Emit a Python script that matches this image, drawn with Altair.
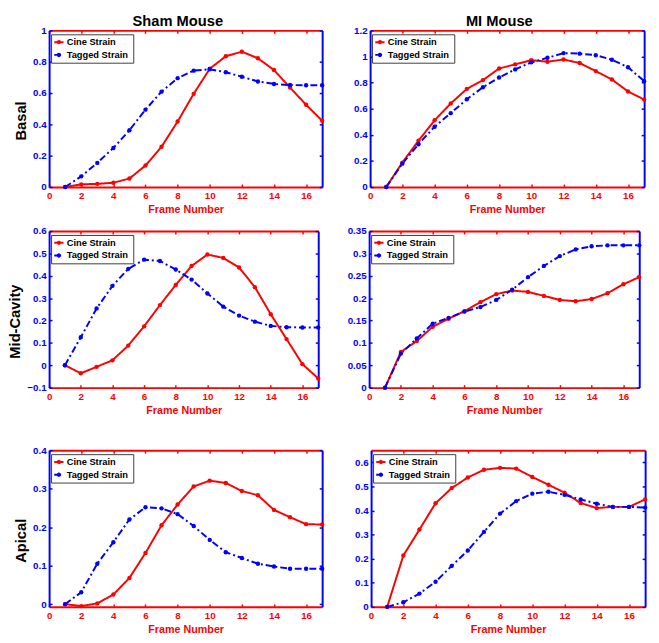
import altair as alt
import pandas as pd

FRAMES = list(range(1, 18))
SERIES = ["Cine Strain", "Tagged  Strain"]
X_TICKS = [0, 2, 4, 6, 8, 10, 12, 14, 16]

SHAM_BASAL_CINE = [0, 0.017, 0.02, 0.027, 0.054, 0.137, 0.257, 0.418, 0.595, 0.755, 0.835, 0.864, 0.822, 0.747, 0.635, 0.525, 0.423]
SHAM_BASAL_TAG = [0, 0.068, 0.154, 0.249, 0.362, 0.494, 0.609, 0.695, 0.743, 0.752, 0.733, 0.704, 0.674, 0.658, 0.651, 0.650, 0.650]
MI_BASAL_CINE = [0, 0.187, 0.355, 0.511, 0.640, 0.752, 0.819, 0.908, 0.940, 0.972, 0.960, 0.977, 0.950, 0.888, 0.824, 0.732, 0.670]
MI_BASAL_TAG = [0, 0.179, 0.328, 0.462, 0.566, 0.672, 0.764, 0.839, 0.901, 0.955, 0.990, 1.026, 1.022, 1.010, 0.975, 0.918, 0.811]
SHAM_MID_CINE = [0, -0.036, -0.007, 0.022, 0.088, 0.174, 0.269, 0.359, 0.444, 0.495, 0.480, 0.437, 0.349, 0.228, 0.117, 0.005, -0.059]
SHAM_MID_TAG = [0, 0.125, 0.254, 0.355, 0.431, 0.472, 0.466, 0.428, 0.383, 0.321, 0.262, 0.222, 0.195, 0.176, 0.170, 0.169, 0.169]
MI_MID_CINE = [0, 0.080, 0.104, 0.136, 0.154, 0.171, 0.191, 0.209, 0.217, 0.214, 0.205, 0.196, 0.193, 0.198, 0.211, 0.231, 0.247]
MI_MID_TAG = [0, 0.076, 0.110, 0.143, 0.156, 0.170, 0.180, 0.196, 0.219, 0.247, 0.272, 0.294, 0.309, 0.316, 0.318, 0.318, 0.318]
SHAM_API_CINE = [0, -0.005, 0.002, 0.025, 0.068, 0.133, 0.205, 0.259, 0.306, 0.321, 0.315, 0.294, 0.283, 0.245, 0.226, 0.208, 0.207]
SHAM_API_TAG = [0, 0.031, 0.105, 0.161, 0.220, 0.252, 0.249, 0.234, 0.203, 0.167, 0.135, 0.120, 0.105, 0.098, 0.092, 0.092, 0.092]
MI_API_CINE = [0, 0.213, 0.321, 0.430, 0.493, 0.537, 0.569, 0.577, 0.574, 0.539, 0.507, 0.474, 0.431, 0.410, 0.415, 0.415, 0.446]
MI_API_TAG = [0, 0.019, 0.055, 0.104, 0.170, 0.234, 0.311, 0.387, 0.439, 0.470, 0.478, 0.465, 0.446, 0.428, 0.415, 0.415, 0.412]

Y_BASAL_SHAM = [0, 0.2, 0.4, 0.6, 0.8, 1]
Y_BASAL_MI = [0, 0.2, 0.4, 0.6, 0.8, 1, 1.2]
Y_MID_SHAM = [-0.1, 0, 0.1, 0.2, 0.3, 0.4, 0.5, 0.6]
Y_MID_MI = [0, 0.05, 0.1, 0.15, 0.2, 0.25, 0.3, 0.35]
Y_API_SHAM = [0, 0.1, 0.2, 0.3, 0.4]
Y_API_MI = [0, 0.1, 0.2, 0.3, 0.4, 0.5, 0.6]

FONT = "Liberation Sans"
RED = "#ff0000"
BLUE = "#0000ff"
SYMBOL = "M-1,0L1,0M-0.25,0A0.25,0.25,0,1,1,0.25,0A0.25,0.25,0,1,1,-0.25,0Z"


def tick_axis(orient, offset, values, color, domain):
    kw = dict(orient=orient, offset=offset, values=values, labels=False, ticks=True,
              tickSize=3, tickWidth=1.5, tickColor=color, grid=False, title=None, domain=domain)
    if domain:
        kw.update(domainColor=color, domainWidth=2)
    return alt.Axis(**kw)


def panel(cine, tagged, ydom, yticks, ylabel, W, H, header=None):
    df = pd.DataFrame({
        "frame": FRAMES * 2,
        "value": cine + tagged,
        "series": [SERIES[0]] * len(FRAMES) + [SERIES[1]] * len(FRAMES),
    })
    xs = alt.Scale(domain=[0, 17], nice=False, zero=False)
    ys = alt.Scale(domain=ydom, nice=False, zero=False)
    cs = alt.Scale(domain=SERIES, range=[RED, BLUE])
    ds = alt.Scale(domain=SERIES, range=[[1, 0], [7, 3, 2, 3]])
    legend = alt.Legend(title=None, orient="none", legendX=2, legendY=4, fillColor="white",
                        strokeColor="#3c3c3c", padding=2, labelFont=FONT, labelFontSize=9.5,
                        labelFontWeight="bold", labelColor="black", symbolType=SYMBOL,
                        symbolSize=90, symbolStrokeWidth=2, rowPadding=1, labelOffset=2)
    x_main = alt.Axis(orient="bottom", values=X_TICKS, format="~g", ticks=False, grid=False,
                      domainColor=RED, domainWidth=2, labelColor=RED, labelFont=FONT,
                      labelFontSize=10, labelFontWeight="bold", labelPadding=4, labelFlush=False,
                      labelOverlap=False, title="Frame Number", titleColor=RED, titleFont=FONT,
                      titleFontSize=11, titleFontWeight="bold", titlePadding=3)
    ykw = dict(orient="left", values=yticks, format="~g", ticks=False, grid=False,
               domainColor=BLUE, domainWidth=2, labelColor=BLUE, labelFont=FONT,
               labelFontSize=10, labelFontWeight="bold", labelPadding=3, labelFlush=False,
               labelOverlap=False)
    if ylabel:
        ykw.update(title=ylabel, titleColor="black", titleFont=FONT, titleFontSize=15,
                   titleFontWeight="bold", titlePadding=4, titleY=H / 2 + 12)
    else:
        ykw.update(title=None)
    y_main = alt.Axis(**ykw)

    base = alt.Chart(df)
    lines = base.mark_line(strokeWidth=2).encode(
        x=alt.X("frame:Q", scale=xs, axis=x_main),
        y=alt.Y("value:Q", scale=ys, axis=y_main),
        color=alt.Color("series:N", scale=cs, legend=legend),
        strokeDash=alt.StrokeDash("series:N", scale=ds, legend=None),
    )
    pts = base.mark_point(filled=True, size=20, opacity=1).encode(
        x=alt.X("frame:Q", scale=xs, axis=None),
        y=alt.Y("value:Q", scale=ys, axis=None),
        color=alt.Color("series:N", scale=cs, legend=None),
    )
    t1 = base.mark_point(size=0, opacity=0).encode(
        x=alt.X("frame:Q", scale=xs, axis=tick_axis("top", -H, X_TICKS, RED, False)),
        y=alt.Y("value:Q", scale=ys, axis=tick_axis("right", -W, yticks, BLUE, False)),
    )
    t2 = base.mark_point(size=0, opacity=0).encode(
        x=alt.X("frame:Q", scale=xs, axis=tick_axis("bottom", -H, X_TICKS, RED, True)),
        y=alt.Y("value:Q", scale=ys, axis=tick_axis("left", -W, yticks, BLUE, True)),
    )
    ch = alt.layer(lines, pts, t1, t2).resolve_axis(x="independent", y="independent")
    props = dict(width=W, height=H)
    if header:
        props["title"] = alt.TitleParams(header, frame="group", anchor="middle", dx=-8, offset=-4,
                                         font=FONT, fontSize=15, fontWeight="bold", color="black")
    return ch.properties(**props)


def indep(c):
    return c.resolve_scale(color="independent", strokeDash="independent").resolve_legend(
        color="independent", strokeDash="independent")


H = 160
row1 = indep(alt.hconcat(
    panel(SHAM_BASAL_CINE, SHAM_BASAL_TAG, [0, 1], Y_BASAL_SHAM, "Basal", 279, H, "Sham Mouse"),
    panel(MI_BASAL_CINE, MI_BASAL_TAG, [0, 1.2], Y_BASAL_MI, None, 280, H, "MI Mouse"),
    spacing=28))
row2 = indep(alt.hconcat(
    panel(SHAM_MID_CINE, SHAM_MID_TAG, [-0.1, 0.6], Y_MID_SHAM, "Mid-Cavity", 275, H),
    panel(MI_MID_CINE, MI_MID_TAG, [0, 0.35], Y_MID_MI, None, 276, H),
    spacing=25))
row3 = indep(alt.hconcat(
    panel(SHAM_API_CINE, SHAM_API_TAG, [-0.007, 0.4], Y_API_SHAM, "Apical", 279, H),
    panel(MI_API_CINE, MI_API_TAG, [0, 0.65], Y_API_MI, None, 280, H),
    spacing=29))

top = indep(alt.vconcat(row1, row2, spacing=12))
chart = indep(alt.vconcat(top, row3, spacing=31)).properties(
    padding={"left": 0, "top": 0, "right": 2, "bottom": 0},
    background="white",
).configure_view(stroke=None)

chart.save("out.html", embed_options={"renderer": "svg", "actions": False})
